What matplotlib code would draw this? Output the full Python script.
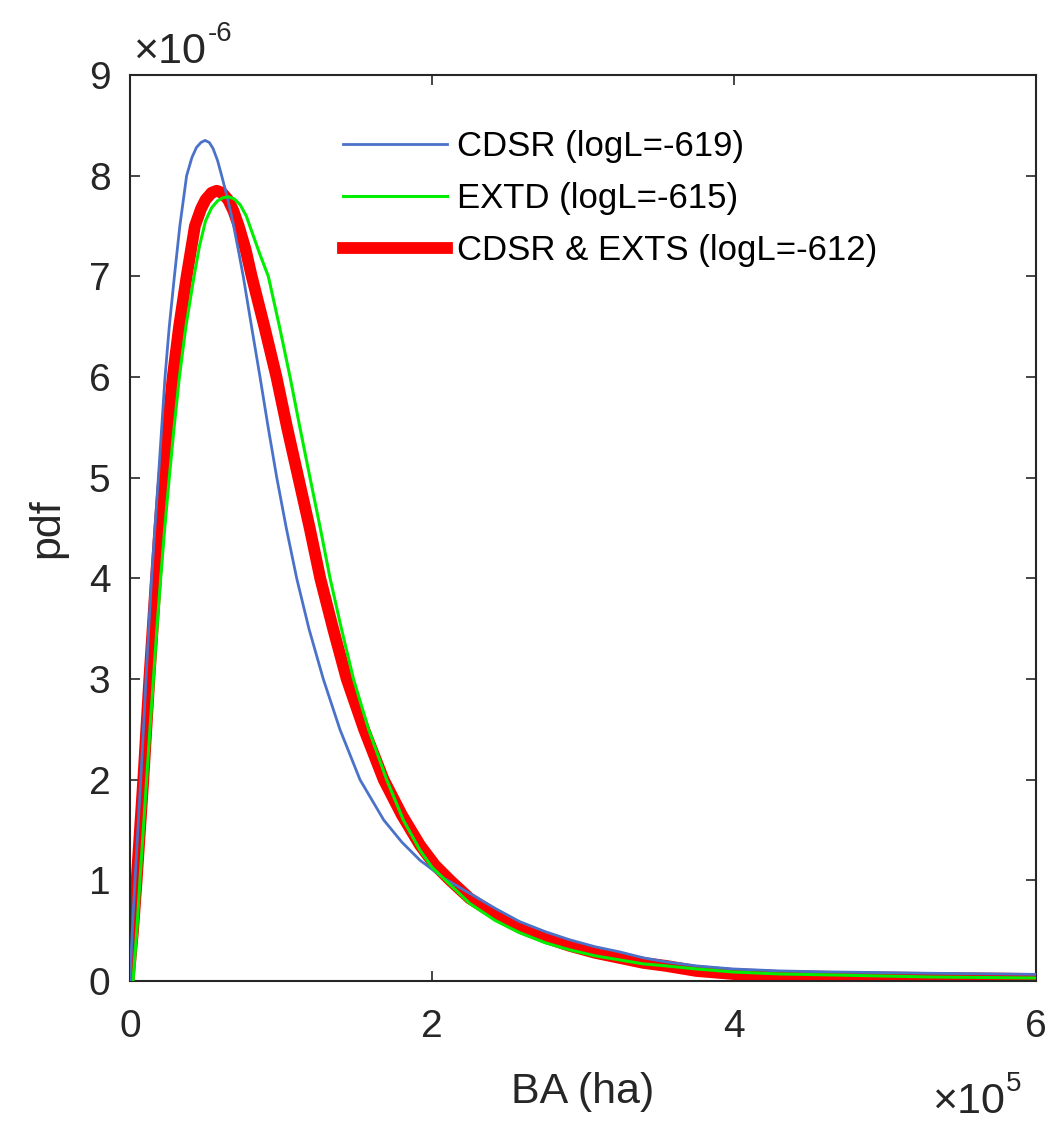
import matplotlib
matplotlib.use('Agg')
import matplotlib.pyplot as plt

plt.rcParams['font.family'] = ['Liberation Sans', 'DejaVu Sans']

# BA in units of 1e5 ha, pdf in units of 1e-6
cdsr_x = [0.0, 0.015, 0.033, 0.052, 0.071, 0.089, 0.106, 0.124, 0.143, 0.165, 0.188, 0.21, 0.232, 0.26,
          0.294, 0.33, 0.375, 0.41, 0.44, 0.47, 0.497, 0.525, 0.55, 0.58, 0.607, 0.645, 0.68, 0.715,
          0.75, 0.805, 0.861, 0.915, 0.972, 1.035, 1.104, 1.185, 1.28, 1.39, 1.523, 1.68, 1.8, 1.92,
          2.08, 2.25, 2.42, 2.58, 2.75, 2.91, 3.08, 3.24, 3.4, 3.55, 3.75, 3.99, 4.3, 4.65, 5.3, 6.0]
cdsr_y = [0.0, 0.5, 1.0, 1.5, 2.0, 2.5, 3.0, 3.5, 4.0, 4.5, 5.0, 5.5, 6.0, 6.5,
          7.0, 7.5, 8.0, 8.18, 8.28, 8.33, 8.35, 8.33, 8.27, 8.15, 8.0, 7.78, 7.55, 7.28,
          7.0, 6.5, 6.0, 5.5, 5.0, 4.5, 4.0, 3.5, 3.0, 2.5, 2.0, 1.6, 1.38, 1.2,
          1.02, 0.87, 0.72, 0.59, 0.49, 0.41, 0.34, 0.29, 0.23, 0.19, 0.15, 0.12, 0.1, 0.09, 0.077, 0.066]

extd_x = [0.02, 0.045, 0.066, 0.088, 0.11, 0.132, 0.155, 0.178, 0.203, 0.23, 0.26, 0.292, 0.327, 0.37,
          0.424, 0.46, 0.5, 0.54, 0.58, 0.615, 0.651, 0.69, 0.73, 0.77, 0.81, 0.86, 0.916, 0.99,
          1.06, 1.125, 1.192, 1.26, 1.325, 1.4, 1.48, 1.58, 1.70, 1.81, 1.92, 2.0, 2.09, 2.25,
          2.42, 2.58, 2.75, 2.91, 3.08, 3.24, 3.4, 3.55, 3.75, 3.99, 4.3, 4.65, 5.3, 6.0]
extd_y = [0.0, 0.5, 1.0, 1.5, 2.0, 2.5, 3.0, 3.5, 4.0, 4.5, 5.0, 5.5, 6.0, 6.5,
          7.0, 7.3, 7.55, 7.68, 7.75, 7.78, 7.79, 7.77, 7.71, 7.6, 7.43, 7.22, 7.0, 6.5,
          6.0, 5.5, 5.0, 4.5, 4.0, 3.5, 3.0, 2.5, 2.0, 1.6, 1.3, 1.13, 1.0, 0.77,
          0.6, 0.48, 0.38, 0.31, 0.25, 0.21, 0.17, 0.15, 0.12, 0.09, 0.07, 0.06, 0.04, 0.03]

both_x = [-0.01, 0.02, 0.044, 0.066, 0.088, 0.108, 0.128, 0.15, 0.172, 0.195, 0.22, 0.25, 0.283, 0.325,
          0.375, 0.43, 0.47, 0.5, 0.54, 0.574, 0.61, 0.65, 0.685, 0.72, 0.765, 0.806, 0.89, 0.97,
          1.04, 1.115, 1.19, 1.26, 1.345, 1.435, 1.55, 1.68, 1.8, 1.92, 2.02, 2.12, 2.25, 2.42,
          2.58, 2.75, 2.91, 3.08, 3.24, 3.4, 3.55, 3.75, 3.99, 4.3, 4.65, 5.3, 6.0]
both_y = [0.0, 0.5, 1.0, 1.5, 2.0, 2.5, 3.0, 3.5, 4.0, 4.5, 5.0, 5.5, 6.0, 6.5,
          7.0, 7.5, 7.67, 7.76, 7.83, 7.85, 7.83, 7.76, 7.65, 7.5, 7.27, 7.0, 6.5, 6.0,
          5.5, 5.0, 4.5, 4.0, 3.5, 3.0, 2.5, 2.0, 1.65, 1.35, 1.15, 1.0, 0.82, 0.66,
          0.53, 0.43, 0.35, 0.28, 0.23, 0.18, 0.15, 0.1, 0.07, 0.05, 0.04, 0.03, 0.02]

labels = ['CDSR (logL=-619)', 'EXTD (logL=-615)', 'CDSR & EXTS (logL=-612)']
xticks = [0, 2, 4, 6]
yticks = [0, 1, 2, 3, 4, 5, 6, 7, 8, 9]

W, H = 1056, 1135
fig = plt.figure(figsize=(W / 100, H / 100), dpi=100)
ax = fig.add_axes([130 / W, 1 - 981 / H, 906 / W, 906 / H])

gray = '#262626'
l3, = ax.plot(both_x, both_y, color='#ff0000', lw=8.5, zorder=2)
l1, = ax.plot(cdsr_x, cdsr_y, color='#4a72c8', lw=2.0, zorder=3)
l2, = ax.plot(extd_x, extd_y, color='#00ee00', lw=2.2, zorder=4)

ax.set_xlim(0, 6)
ax.set_ylim(0, 9)
ax.set_xticks(xticks)
ax.set_yticks(yticks)
ax.tick_params(direction='in', length=7, width=1.2, colors=gray, labelsize=28,
               top=True, right=True)
ax.tick_params(axis='x', pad=20)
ax.tick_params(axis='y', pad=14)
for s in ax.spines.values():
    s.set_color(gray)
    s.set_linewidth(1.5)

ax.set_xlabel('BA (ha)', fontsize=31, color=gray)
ax.set_ylabel('pdf', fontsize=31, color=gray)
ax.xaxis.set_label_coords(0.5, -0.1004)
ax.yaxis.set_label_coords(-0.0695, 0.5)

# MATLAB-style exponent labels
t1 = fig.text(133 / W, 1 - 63 / H, '\u00d710', fontsize=31, color=gray, va='baseline', ha='left')
fig.text(0, 0, '')
ax.annotate('-6', xy=(1.02, 0.62), xycoords=t1, fontsize=20, color=gray,
            va='bottom', ha='left', annotation_clip=False)
t2 = fig.text(932 / W, 1 - 1113 / H, '\u00d710', fontsize=31, color=gray, va='baseline', ha='left')
ax.annotate('5', xy=(1.02, 0.62), xycoords=t2, fontsize=20, color=gray,
            va='bottom', ha='left', annotation_clip=False)

ax.legend([l1, l2, l3], labels, loc='upper left', bbox_to_anchor=(0.235, 0.939),
          frameon=False, fontsize=25, borderpad=0, borderaxespad=0,
          handlelength=3.0, handletextpad=0.3, labelspacing=0.55)

fig.savefig('out.png', dpi=100)
